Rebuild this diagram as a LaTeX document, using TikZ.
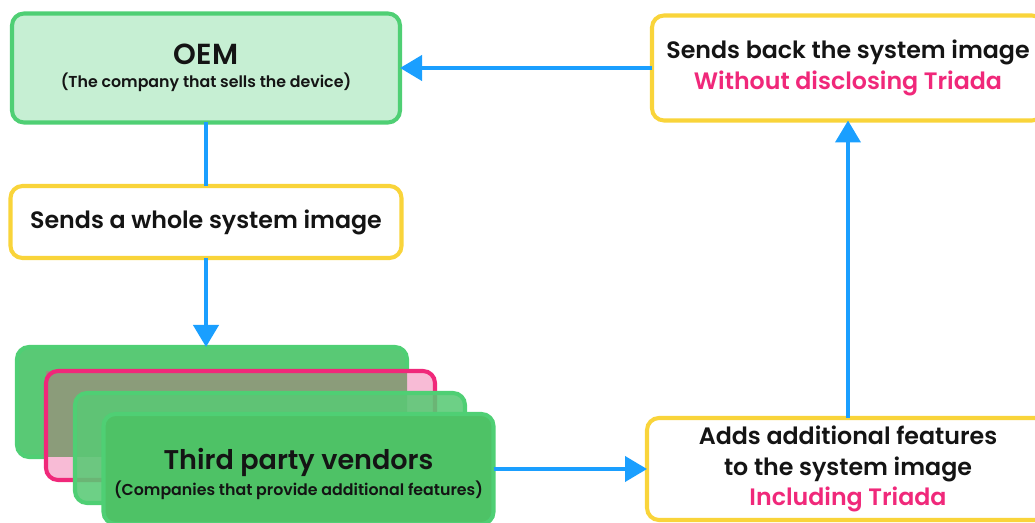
\documentclass[tikz,border=0pt]{standalone}
\usepackage{fontspec}
\setmainfont{Poppins}[BoldFont={* SemiBold}]
\usetikzlibrary{arrows.meta, positioning}

\definecolor{oemfill}{HTML}{C6EFD3}
\definecolor{boxgreen}{HTML}{4FCF74}
\definecolor{vendgreen}{HTML}{59C975}
\definecolor{vendgreenB}{HTML}{4EC266}
\definecolor{triadapink}{HTML}{F0287A}
\definecolor{pinkfill}{HTML}{F8BBD6}
\definecolor{mixgreen}{HTML}{8B9C7A}
\definecolor{stepyellow}{HTML}{F9D43A}
\definecolor{flowblue}{HTML}{1A9FFF}
\definecolor{inktext}{HTML}{141414}

\newcommand{\bigtxt}{\fontsize{16.5}{19}\selectfont}
\newcommand{\midtxt}{\fontsize{13.5}{17.6}\selectfont}
\newcommand{\smalltxt}{\fontsize{9}{11}\selectfont}

\tikzset{
  box/.style={rectangle, rounded corners=0.24cm, line width=2.3pt, align=center,
    inner sep=0pt, outer sep=0pt, text=inktext, font=\bfseries},
  oembox/.style={box, draw=boxgreen, fill=oemfill, minimum width=7.76cm, minimum height=2.18cm},
  actbox/.style={box, draw=stepyellow, fill=white, font=\bfseries\midtxt},
  vendbox/.style={box, draw=boxgreen, fill=vendgreen, minimum width=7.8cm, minimum height=2.2cm},
  flow/.style={draw=flowblue, line width=2.3pt, -{Triangle[length=0.44cm, width=0.5cm]}},
  link/.style={draw=flowblue, line width=2.3pt},
}

\begin{document}
\begin{tikzpicture}
  \useasboundingbox (0,0) rectangle (20.7,-10.46);

  % top left
  \node[oembox] (oem) at (4.12,-1.36)
    {{\bigtxt OEM}\\[1pt]{\smalltxt (The company that sells the device)}};
  \node[actbox, minimum width=7.82cm, minimum height=1.44cm] (whole) at (4.12,-4.44)
    {Sends a whole system image};

  % vendor stack
  \node[vendbox] (vend1) at (4.24,-8.04) {};
  \node[box, fill=pinkfill, minimum width=7.78cm, minimum height=2.18cm] (vend2) at (4.81,-8.51) {};
  \begin{scope}
    \clip[rounded corners=0.24cm] (vend1.south west) rectangle (vend1.north east);
    \fill[mixgreen] (vend2.south west) rectangle (vend2.north east);
  \end{scope}
  \draw[triadapink, line width=2.3pt, rounded corners=0.24cm] (vend2.south west) rectangle (vend2.north east);
  \node[vendbox, fill opacity=0.88] (vend3) at (5.40,-8.96) {};
  \node[vendbox, fill=vendgreenB] (vend4) at (5.97,-9.38) {};
  \node[align=center, text=inktext, font=\bfseries] (vendtxt) at ([yshift=-0.1cm]vend4.center)
    {{\fontsize{15.4}{17}\selectfont Third party vendors}\\[1pt]{\smalltxt (Companies that provide additional features)}};

  % right side
  \node[actbox, minimum width=8.04cm, minimum height=2.04cm] (adds) at (16.96,-9.38)
    {Adds additional features\\to the system image\\\color{triadapink}Including Triada};
  \node[actbox, minimum width=7.84cm, minimum height=2.1cm] (back) at (16.96,-1.36)
    {Sends back the system image\\\color{triadapink}Without disclosing Triada};

  % connectors
  \draw[link] (oem) -- (whole);
  \draw[flow] (whole.south) -- (whole.south |- vend1.north);
  \draw[flow] (vend4) -- (adds);
  \draw[flow] (adds) -- (back);
  \draw[flow] (back) -- (oem);
\end{tikzpicture}
\end{document}
